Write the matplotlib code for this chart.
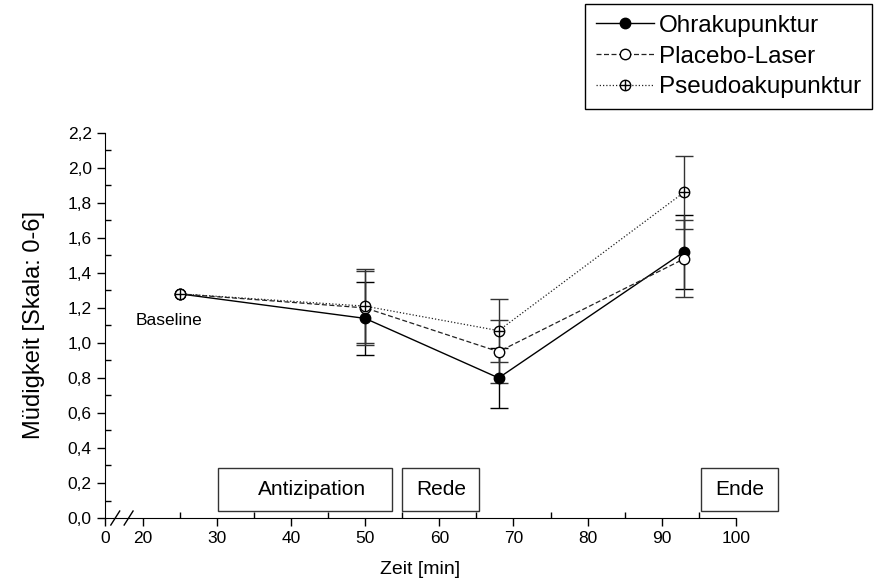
import matplotlib.pyplot as plt
from matplotlib.legend_handler import HandlerTuple
from matplotlib.patches import Rectangle

plt.rcParams['font.family'] = ['Liberation Sans', 'DejaVu Sans']

# Data (Zeit in min, Müdigkeit)
time = [25, 50, 68, 93]
ohr = [1.28, 1.14, 0.80, 1.52]
ohr_err = [0, 0.21, 0.17, 0.21]
placebo = [1.28, 1.20, 0.95, 1.48]
placebo_err = [0, 0.21, 0.18, 0.22]
pseudo = [1.28, 1.21, 1.07, 1.86]
pseudo_err = [0, 0.21, 0.18, 0.21]

phases = ["Antizipation", "Rede", "Ende"]
phase_start = [30.1, 55.0, 95.3]
phase_end = [53.6, 65.3, 105.7]
phase_text_x = [42.8, 60.2, 100.5]

xticks = [20, 30, 40, 50, 60, 70, 80, 90, 100]
yticks = [0.0, 0.2, 0.4, 0.6, 0.8, 1.0, 1.2, 1.4, 1.6, 1.8, 2.0, 2.2]

fig = plt.figure(figsize=(8.74, 5.85), dpi=100)
ax = fig.add_axes([0.120, 0.1145, 0.722, 0.6585])

x0 = 14.9  # position of the "0" on the broken axis

ms = 7.5
# error bars (not at baseline)
ax.errorbar(time[1:], ohr[1:], yerr=ohr_err[1:], fmt='none', ecolor='black',
            elinewidth=1, capsize=6.5, capthick=1, zorder=2)
ax.errorbar(time[1:], placebo[1:], yerr=placebo_err[1:], fmt='none', ecolor='#333333',
            elinewidth=1, capsize=6.5, capthick=1, zorder=2)
ax.errorbar(time[1:], pseudo[1:], yerr=pseudo_err[1:], fmt='none', ecolor='#333333',
            elinewidth=1, capsize=6.5, capthick=1, zorder=2)

l1, = ax.plot(time, ohr, '-', color='black', lw=1, marker='o', ms=ms,
              mfc='black', mec='black', zorder=4)
l2, = ax.plot(time, placebo, color='#222222', lw=0.9, ls=(0, (4, 2)), marker='o', ms=ms,
              mfc='white', mec='black', zorder=4)
l3, = ax.plot(time, pseudo, color='#222222', lw=0.9, ls=(0, (1, 1.6)), marker='o', ms=ms,
              mfc='white', mec='black', zorder=5)
l3p, = ax.plot(time, pseudo, ls='none', marker='+', ms=ms, mew=1, color='black', zorder=6)

ax.set_xlim(x0, 100)
ax.set_ylim(0, 2.2)
ax.set_xticks([x0] + xticks)
ax.set_xticklabels(['0'] + [str(t) for t in xticks])
ax.set_xticks([25, 35, 45, 55, 65, 75, 85, 95], minor=True)
ax.set_yticks(yticks)
ax.set_yticklabels([f"{v:.1f}".replace('.', ',') for v in yticks])
ax.set_yticks([v + 0.1 for v in yticks[:-1]], minor=True)
ax.tick_params(which='major', direction='out', length=6, width=1, labelsize=12.5)
ax.tick_params(which='minor', direction='in', length=4, width=1)

ax.spines['top'].set_visible(False)
ax.spines['right'].set_visible(False)

# axis break marks
for bx in [16.3, 18.1]:
    ax.plot([bx - 0.6, bx + 0.6], [-0.04, 0.04], color='black', lw=1, clip_on=False)

ax.set_xlabel("Zeit [min]", fontsize=14, labelpad=11)
ax.set_ylabel("Müdigkeit [Skala: 0-6]", fontsize=17, labelpad=16)

ax.text(19.0, 1.13, "Baseline", fontsize=12.5, ha='left', va='center')

# phase boxes
for name, s, e, tx in zip(phases, phase_start, phase_end, phase_text_x):
    ax.add_patch(Rectangle((s, 0.04), e - s, 0.245, fill=False, edgecolor='#333333',
                           lw=1, clip_on=False))
    ax.text(tx, 0.04 + 0.1225, name, fontsize=15, ha='center', va='center')

leg = fig.legend([l1, l2, (l3, l3p)], ["Ohrakupunktur", "Placebo-Laser", "Pseudoakupunktur"],
                 handler_map={tuple: HandlerTuple(ndivide=1, pad=0)},
                 loc='upper right', bbox_to_anchor=(872 / 874, 1 - 4 / 585),
                 fontsize=17.5, handlelength=2.4, fancybox=False, edgecolor='black',
                 framealpha=1, borderaxespad=0, labelspacing=0.36, handletextpad=0.2,
                 borderpad=0.45)
leg.get_frame().set_linewidth(1)

fig.savefig("out.png", dpi=100)
